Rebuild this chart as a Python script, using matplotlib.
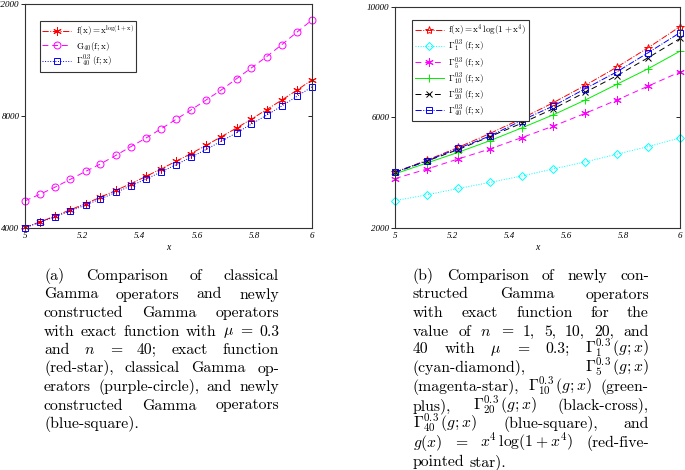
# Gamma operator comparison, two panels with justified captions

import matplotlib
matplotlib.use("Agg")
import matplotlib.pyplot as plt
import matplotlib.lines as mlines

plt.rcParams["mathtext.fontset"] = "cm"

# ---- data ----
x_a = [5.000, 5.053, 5.105, 5.158, 5.211, 5.263, 5.316, 5.368, 5.421, 5.474,
       5.526, 5.579, 5.632, 5.684, 5.737, 5.789, 5.842, 5.895, 5.947, 6.000]
exact_a = [4020, 4220, 4430, 4650, 4870, 5100, 5340, 5580, 5840, 6110,
           6380, 6660, 6960, 7260, 7570, 7890, 8230, 8570, 8920, 9290]
classic_a = [4970, 5210, 5460, 5740, 6020, 6290, 6590, 6900, 7210, 7540,
             7880, 8220, 8580, 8930, 9330, 9720, 10120, 10550, 10990, 11430]
new_a = [4010, 4205, 4405, 4610, 4820, 5040, 5270, 5500, 5745, 6000,
         6260, 6530, 6810, 7100, 7400, 7710, 8030, 8360, 8700, 9040]

x_b = [5.000, 5.111, 5.222, 5.333, 5.444, 5.556, 5.667, 5.778, 5.889, 6.000]
exact_b = [4020, 4450, 4920, 5420, 5960, 6540, 7160, 7820, 8530, 9290]
g1 = [2990, 3200, 3430, 3650, 3880, 4140, 4390, 4670, 4950, 5260]
g5 = [3790, 4130, 4500, 4860, 5270, 5690, 6150, 6630, 7140, 7650]
g10 = [3960, 4350, 4740, 5160, 5620, 6100, 6630, 7200, 7770, 8400]
g20 = [4010, 4420, 4840, 5310, 5790, 6320, 6910, 7510, 8170, 8860]
g40 = [4020, 4430, 4880, 5330, 5890, 6420, 7040, 7650, 8350, 9070]

xticks = [5, 5.2, 5.4, 5.6, 5.8, 6]
xticklabels = ["5", "5.2", "5.4", "5.6", "5.8", "6"]
yticks_a = [4000, 8000, 12000]
yticks_b = [2000, 6000, 10000]

W, H = 685, 470
fig = plt.figure(figsize=(W / 100, H / 100), dpi=100)


def px_axes(l, t, r, b):
    return fig.add_axes([l / W, 1 - b / H, (r - l) / W, (b - t) / H])


def style_axes(ax, yticks, ylim):
    ax.set_xlim(5, 6)
    ax.set_ylim(*ylim)
    ax.set_xticks(xticks)
    ax.set_xticklabels(xticklabels)
    ax.set_yticks(yticks)
    ax.set_yticklabels([str(v) for v in yticks])
    for lab in ax.get_xticklabels() + ax.get_yticklabels():
        lab.set_family("Liberation Serif")
        lab.set_style("italic")
        lab.set_fontsize(6.5)
    ax.tick_params(axis="y", direction="out", length=3, width=0.6, pad=1, right=True)
    ax.tick_params(axis="x", direction="in", length=0, pad=3)
    # right-hand ticks point inward, like the original
    for t in ax.yaxis.get_major_ticks():
        t.tick2line.set_marker(mlines.TICKLEFT)
    for s in ax.spines.values():
        s.set_linewidth(0.8)
        s.set_color("#333333")
    ax.set_xlabel("x", family="Liberation Serif", style="italic", fontsize=7, labelpad=2)


def legend(ax, anchor, spacing):
    leg = ax.legend(loc="upper left", bbox_to_anchor=anchor, fontsize=6.5,
                    handlelength=3.2, borderpad=0.3, labelspacing=spacing,
                    handletextpad=0.5, fancybox=False, framealpha=1)
    leg.get_frame().set_edgecolor("#333333")
    leg.get_frame().set_linewidth(0.8)


kw = dict(lw=0.7, mew=0.7, clip_on=False)

# ---- panel (a) ----
ax1 = px_axes(25, 4, 312, 228)
ax1.plot(x_a, exact_a, "-.", color="red", marker=(6, 2, 0), ms=6,
         label=r"$\mathrm{f(x) = x^{log(1+x)}}$", **kw)
ax1.plot(x_a, classic_a, "--", color="magenta", marker="o", mfc="none", ms=5,
         dashes=(6, 4), label=r"$\mathrm{G_{40}(f;x)}$", **kw)
ax1.plot(x_a, new_a, ":", color="blue", marker="s", mfc="none", ms=4,
         label=r"$\Gamma^{0.3}_{40}\,\mathrm{(f;x)}$", **kw)
style_axes(ax1, yticks_a, (4000, 12000))
legend(ax1, (0.035, 0.945), 0.15)

# ---- panel (b) ----
ax2 = px_axes(395, 7, 680, 228)
ax2.plot(x_b, exact_b, "-.", color="red", marker="*", mfc="none", ms=6,
         label=r"$\mathrm{f(x) = x^4\,log(1+x^4)}$", **kw)
ax2.plot(x_b, g1, ":", color="cyan", marker="D", mfc="none", ms=4.5,
         label=r"$\Gamma^{0.3}_{1}\,\mathrm{(f;x)}$", **kw)
ax2.plot(x_b, g5, "--", color="magenta", marker=(6, 2, 0), ms=6,
         dashes=(6, 4), label=r"$\Gamma^{0.3}_{5}\,\mathrm{(f;x)}$", **kw)
ax2.plot(x_b, g10, "-", color="#00ee00", marker="+", ms=6,
         label=r"$\Gamma^{0.3}_{10}\,\mathrm{(f;x)}$", **kw)
ax2.plot(x_b, g20, "--", color="black", marker="x", ms=5,
         dashes=(6, 4), label=r"$\Gamma^{0.3}_{20}\,\mathrm{(f;x)}$", **kw)
ax2.plot(x_b, g40, "-.", color="blue", marker="s", mfc="none", ms=4.5,
         label=r"$\Gamma^{0.3}_{40}\,\mathrm{(f;x)}$", **kw)
style_axes(ax2, yticks_b, (2000, 10000))
legend(ax2, (0.045, 0.96), 0.05)

# ---- captions, justified by hand ----
renderer = fig.canvas.get_renderer()
FS = 11.3


def put_line(line, x0, x1, y, justify=True):
    tokens = line.split(" ")
    texts = [fig.text(0, 1 - y / H, t, fontsize=FS, family="cmr10", va="baseline")
             for t in tokens]
    widths = [t.get_window_extent(renderer).width for t in texts]
    if justify and len(tokens) > 1:
        gap = (x1 - x0 - sum(widths)) / (len(tokens) - 1)
    else:
        gap = FS * 1.39 * 0.33
    x = x0
    for t, w in zip(texts, widths):
        t.set_x(x / W)
        x += w + gap


cap_a = [
    "(a) Comparison of classical",
    "Gamma operators and newly",
    "constructed Gamma operators",
    r"with exact function with $\mu$ = 0.3",
    r"and $n$ = 40; exact function",
    "(red-star), classical Gamma op-",
    "erators (purple-circle), and newly",
    "constructed Gamma operators",
    "(blue-square).",
]
base_a = [280, 298.5, 317, 335.5, 354, 372.5, 391, 409.5, 428]
for i, (ln, y) in enumerate(zip(cap_a, base_a)):
    put_line(ln, 44, 279, y, justify=i < len(cap_a) - 1)

cap_b = [
    "(b) Comparison of newly con-",
    "structed Gamma operators",
    "with exact function for the",
    r"value of $n$ = 1, 5, 10, 20, and",
    r"40 with $\mu$ = 0.3; $\Gamma_1^{0.3}\,(g;x)$",
    r"(cyan-diamond), $\Gamma_5^{0.3}\,(g;x)$",
    r"(magenta-star), $\Gamma_{10}^{0.3}\,(g;x)$ (green-",
    r"plus), $\Gamma_{20}^{0.3}\,(g;x)$ (black-cross),",
    r"$\Gamma_{40}^{0.3}\,(g;x)$ (blue-square), and",
    r"$g(x)$ = $x^4\,\log(1+x^4)$ (red-five-",
    "pointed star).",
]
base_b = [280, 298.5, 317, 335.5, 353, 372, 391, 410, 428, 447, 466]
for i, (ln, y) in enumerate(zip(cap_b, base_b)):
    put_line(ln, 413, 649, y, justify=i < len(cap_b) - 1)

fig.savefig("out.png", dpi=100)
